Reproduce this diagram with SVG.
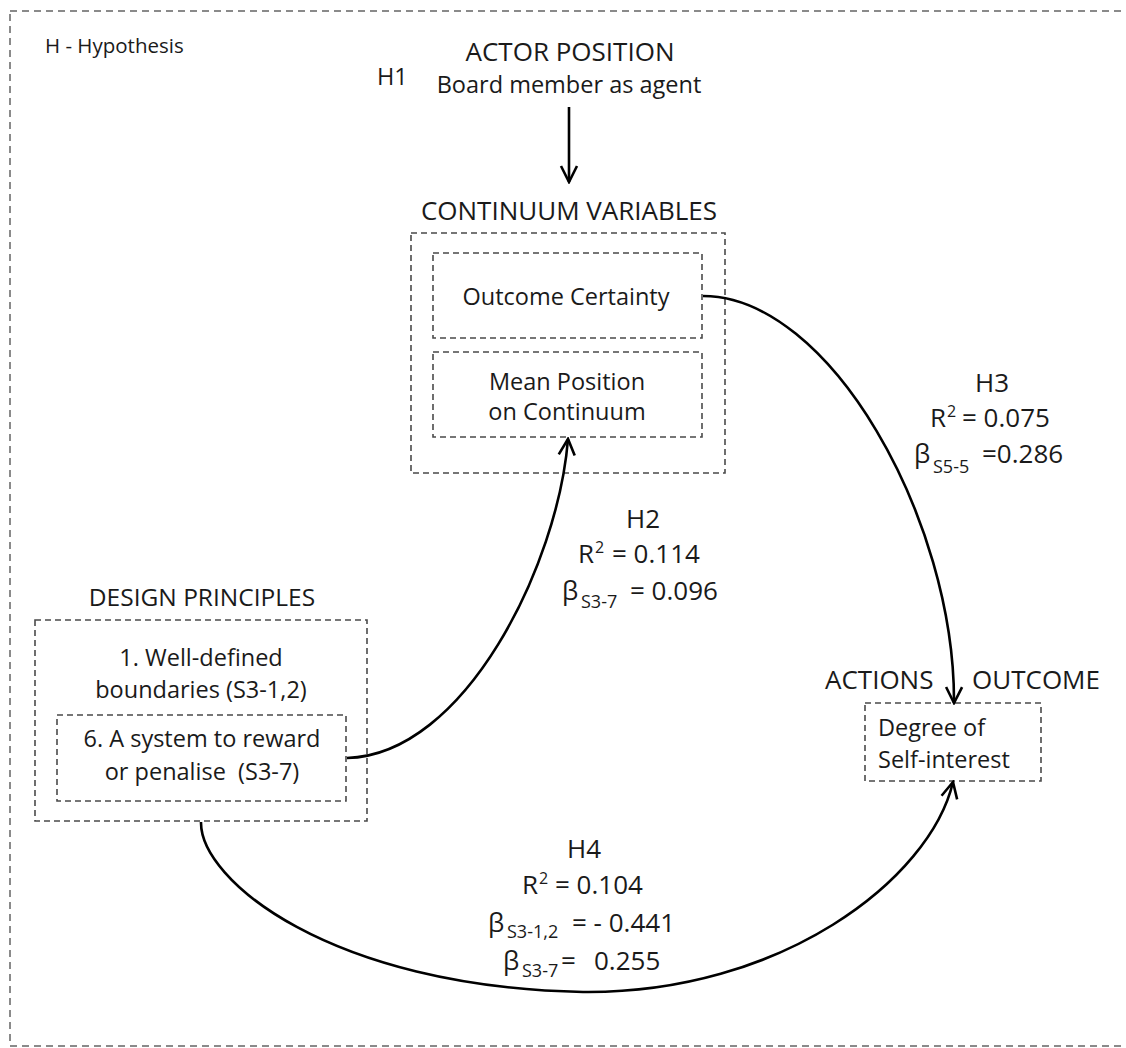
<svg xmlns="http://www.w3.org/2000/svg" width="1126" height="1048" viewBox="0 0 1126 1048">
  <defs>
    <style>
      text { font-family: "Open Sans", "Noto Sans", "Liberation Sans", sans-serif; fill: #1a1a1a; }
      .head { font-size: 26px; text-anchor: middle; }
      .body { font-size: 23.5px; }
      .mid { text-anchor: middle; }
      .lbl { font-size: 26px; }
      .sup { font-size: 16px; }
      .sub { font-size: 18px; }
      .frame { fill: none; stroke: #8a8a8a; stroke-width: 2; stroke-dasharray: 7 5; }
      .box { fill: none; stroke: #4a4a4a; stroke-width: 1.6; stroke-dasharray: 6 4; }
      .conn { fill: none; stroke: #000; stroke-width: 2.6; marker-end: url(#arrow); }
    </style>
    <marker id="arrow" viewBox="0 0 20 20" refX="18" refY="10" markerWidth="20" markerHeight="20" markerUnits="userSpaceOnUse" orient="auto">
      <path d="M2,2 L18,10 L2,18" fill="none" stroke="#000" stroke-width="2.6" stroke-linejoin="miter"/>
    </marker>
  </defs>

  <rect width="1126" height="1048" fill="#fff"/>

  <!-- outer frame, open on the right -->
  <rect class="frame" x="10" y="11" width="1130" height="1035"/>
  <text class="body" x="45" y="53" style="font-size:20.5px">H - Hypothesis</text>

  <!-- actor position -->
  <g id="actor-position">
    <text class="head" x="570" y="61">ACTOR POSITION</text>
    <text class="body mid" x="569" y="93">Board member as agent</text>
    <text class="body" x="377" y="85">H1</text>
  </g>

  <!-- continuum variables -->
  <g id="continuum-variables">
    <text class="head" x="569" y="220">CONTINUUM VARIABLES</text>
    <rect class="box" x="411" y="233" width="314" height="240"/>
  </g>
  <g id="outcome-certainty">
    <rect class="box" x="433" y="253" width="269" height="85"/>
    <text class="body mid" x="566" y="305">Outcome Certainty</text>
  </g>
  <g id="mean-position">
    <rect class="box" x="433" y="352" width="269" height="85"/>
    <text class="body mid" x="567" y="390">Mean Position</text>
    <text class="body mid" x="567" y="420">on Continuum</text>
  </g>

  <!-- design principles -->
  <g id="design-principles">
    <text class="head" x="202" y="606" style="font-size:24.5px">DESIGN PRINCIPLES</text>
    <rect class="box" x="35" y="620" width="332" height="201"/>
    <text class="body mid" x="201" y="666">1. Well-defined</text>
    <text class="body mid" x="201" y="698">boundaries (S3-1,2)</text>
  </g>
  <g id="reward-system">
    <rect class="box" x="57" y="715" width="289" height="86"/>
    <text class="body mid" x="202" y="747">6. A system to reward</text>
    <text class="body mid" x="202" y="780" xml:space="preserve">or penalise  (S3-7)</text>
  </g>

  <!-- actions / outcome -->
  <g id="actions-outcome">
    <text class="head" x="825" y="689" style="text-anchor:start">ACTIONS</text>
    <text class="head" x="972" y="689" style="text-anchor:start">OUTCOME</text>
  </g>
  <g id="self-interest">
    <rect class="box" x="865" y="703" width="176" height="78"/>
    <text class="body" x="878" y="736">Degree of</text>
    <text class="body" x="878" y="768">Self-interest</text>
  </g>

  <!-- connectors -->
  <g id="connectors">
    <path class="conn" d="M569,107 L569,182"/>
    <path class="conn" d="M347,758 C465,755 558,565 568,439"/>
    <path class="conn" d="M703,296 C830,296 955,520 954,703"/>
    <path class="conn" d="M201,822 C200,880 330,987 583,992 C780,994 930,880 953,782"/>
  </g>

  <!-- hypothesis labels -->
  <g id="label-h2">
    <text class="lbl" x="626" y="528">H2</text>
    <text class="lbl"><tspan x="578" y="563">R</tspan><tspan class="sup" x="595" y="553">2</tspan><tspan x="612" y="563">= 0.114</tspan></text>
    <text class="lbl"><tspan x="562" y="600">β</tspan><tspan class="sub" x="581" y="608">S3-7</tspan><tspan x="630" y="600">= 0.096</tspan></text>
  </g>
  <g id="label-h3">
    <text class="lbl" x="975" y="392">H3</text>
    <text class="lbl"><tspan x="930" y="427">R</tspan><tspan class="sup" x="947" y="417">2</tspan><tspan x="962" y="427">= 0.075</tspan></text>
    <text class="lbl"><tspan x="914" y="463">β</tspan><tspan class="sub" x="933" y="473">S5-5</tspan><tspan x="982" y="463">=0.286</tspan></text>
  </g>
  <g id="label-h4">
    <text class="lbl" x="567" y="858">H4</text>
    <text class="lbl"><tspan x="522" y="894">R</tspan><tspan class="sup" x="539" y="884">2</tspan><tspan x="555" y="894">= 0.104</tspan></text>
    <text class="lbl"><tspan x="488" y="932">β</tspan><tspan class="sub" x="507" y="938">S3-1,2</tspan><tspan x="572" y="932">= - 0.441</tspan></text>
    <text class="lbl"><tspan x="503" y="970">β</tspan><tspan class="sub" x="522" y="977">S3-7</tspan><tspan x="561" y="970">= </tspan><tspan x="594" y="970">0.255</tspan></text>
  </g>
</svg>
